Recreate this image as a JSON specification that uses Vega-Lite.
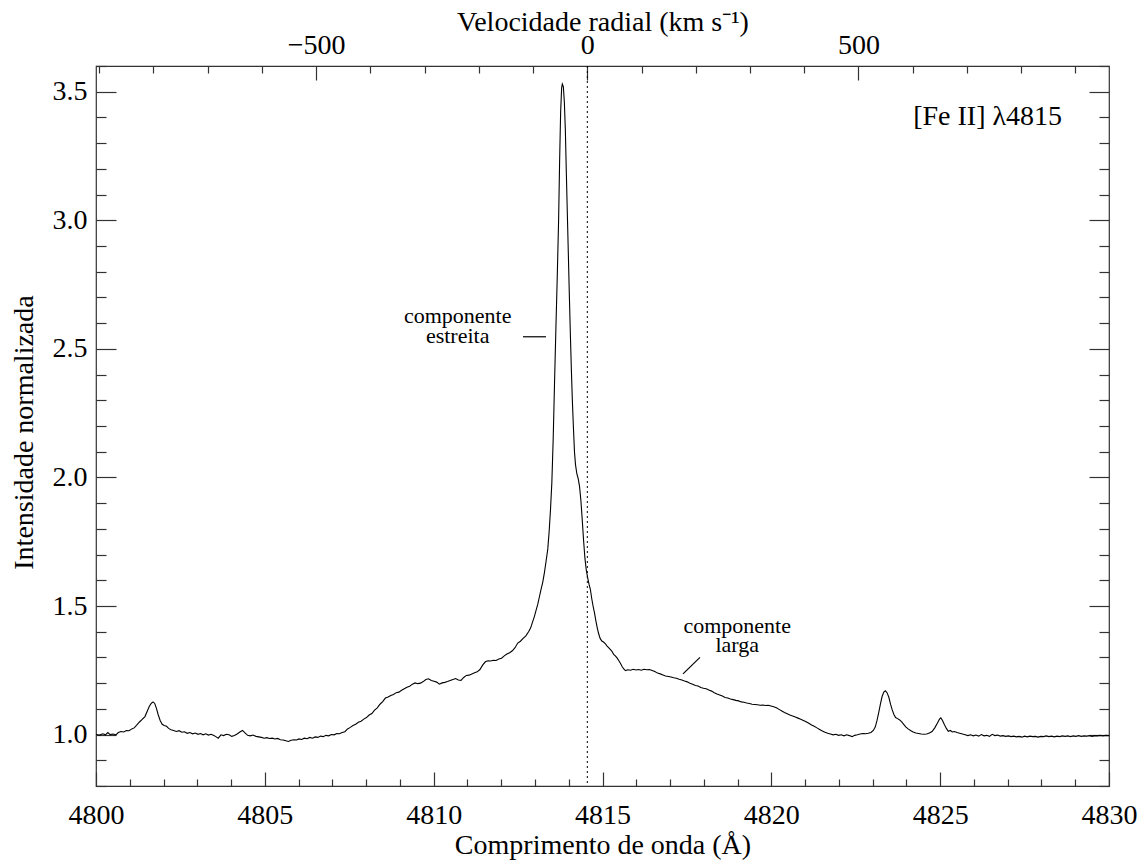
{
  "$schema": "https://vega.github.io/schema/vega-lite/v6.json",
  "width": 1013,
  "height": 720,
  "autosize": {"type": "none"},
  "padding": {"left": 96, "top": 66, "right": 38, "bottom": 74},
  "background": "white",
  "config": {
    "view": {"stroke": "#333", "strokeWidth": 1.2},
    "axis": {
      "grid": false,
      "domain": false,
      "labelFont": "Liberation Serif",
      "titleFont": "Liberation Serif",
      "labelFontSize": 28,
      "titleFontSize": 28,
      "labelColor": "black",
      "titleColor": "black",
      "titleFontWeight": "normal",
      "tickColor": "#333",
      "tickWidth": 1.2,
      "labelFlush": false,
      "labelOverlap": false,
      "labelBound": false
    },
    "text": {"font": "Liberation Serif", "color": "black"}
  },
  "datasets": {
    "spectrum": [
      {"wavelength": 4800.00, "intensity": 1.000}, {"wavelength": 4800.10, "intensity": 0.998}, {"wavelength": 4800.20, "intensity": 1.003},
      {"wavelength": 4800.28, "intensity": 0.999}, {"wavelength": 4800.35, "intensity": 1.008}, {"wavelength": 4800.42, "intensity": 1.000},
      {"wavelength": 4800.50, "intensity": 1.002}, {"wavelength": 4800.59, "intensity": 0.999}, {"wavelength": 4800.66, "intensity": 1.008},
      {"wavelength": 4800.74, "intensity": 1.012}, {"wavelength": 4800.82, "intensity": 1.010}, {"wavelength": 4800.90, "intensity": 1.016},
      {"wavelength": 4800.98, "intensity": 1.015}, {"wavelength": 4801.06, "intensity": 1.022}, {"wavelength": 4801.13, "intensity": 1.026},
      {"wavelength": 4801.20, "intensity": 1.036}, {"wavelength": 4801.28, "intensity": 1.048}, {"wavelength": 4801.36, "intensity": 1.058},
      {"wavelength": 4801.45, "intensity": 1.070}, {"wavelength": 4801.52, "intensity": 1.092}, {"wavelength": 4801.58, "intensity": 1.110},
      {"wavelength": 4801.64, "intensity": 1.122}, {"wavelength": 4801.69, "intensity": 1.127}, {"wavelength": 4801.74, "intensity": 1.121},
      {"wavelength": 4801.79, "intensity": 1.102}, {"wavelength": 4801.84, "intensity": 1.078}, {"wavelength": 4801.90, "intensity": 1.055},
      {"wavelength": 4801.96, "intensity": 1.040}, {"wavelength": 4802.02, "intensity": 1.035}, {"wavelength": 4802.09, "intensity": 1.032},
      {"wavelength": 4802.15, "intensity": 1.024}, {"wavelength": 4802.22, "intensity": 1.019}, {"wavelength": 4802.30, "intensity": 1.016},
      {"wavelength": 4802.38, "intensity": 1.012}, {"wavelength": 4802.46, "intensity": 1.015}, {"wavelength": 4802.54, "intensity": 1.009},
      {"wavelength": 4802.62, "intensity": 1.011}, {"wavelength": 4802.70, "intensity": 1.005}, {"wavelength": 4802.78, "intensity": 1.008},
      {"wavelength": 4802.86, "intensity": 1.003}, {"wavelength": 4802.94, "intensity": 1.006}, {"wavelength": 4803.02, "intensity": 1.001},
      {"wavelength": 4803.10, "intensity": 1.004}, {"wavelength": 4803.17, "intensity": 0.999}, {"wavelength": 4803.25, "intensity": 1.003},
      {"wavelength": 4803.33, "intensity": 0.998}, {"wavelength": 4803.41, "intensity": 1.001}, {"wavelength": 4803.49, "intensity": 0.996},
      {"wavelength": 4803.55, "intensity": 0.992}, {"wavelength": 4803.62, "intensity": 0.986}, {"wavelength": 4803.70, "intensity": 0.999},
      {"wavelength": 4803.78, "intensity": 0.996}, {"wavelength": 4803.86, "intensity": 1.001}, {"wavelength": 4803.94, "intensity": 0.999},
      {"wavelength": 4804.02, "intensity": 0.993}, {"wavelength": 4804.10, "intensity": 0.996}, {"wavelength": 4804.18, "intensity": 1.002},
      {"wavelength": 4804.26, "intensity": 1.010}, {"wavelength": 4804.34, "intensity": 1.016}, {"wavelength": 4804.42, "intensity": 1.006},
      {"wavelength": 4804.49, "intensity": 0.997}, {"wavelength": 4804.57, "intensity": 0.995}, {"wavelength": 4804.65, "intensity": 0.998},
      {"wavelength": 4804.74, "intensity": 0.993}, {"wavelength": 4804.82, "intensity": 0.991}, {"wavelength": 4804.90, "intensity": 0.989},
      {"wavelength": 4804.98, "intensity": 0.986}, {"wavelength": 4805.06, "intensity": 0.988}, {"wavelength": 4805.14, "intensity": 0.985},
      {"wavelength": 4805.22, "intensity": 0.986}, {"wavelength": 4805.30, "intensity": 0.983}, {"wavelength": 4805.38, "intensity": 0.985},
      {"wavelength": 4805.46, "intensity": 0.980}, {"wavelength": 4805.54, "intensity": 0.979}, {"wavelength": 4805.62, "intensity": 0.976},
      {"wavelength": 4805.70, "intensity": 0.973}, {"wavelength": 4805.78, "intensity": 0.978}, {"wavelength": 4805.86, "intensity": 0.980},
      {"wavelength": 4805.94, "intensity": 0.979}, {"wavelength": 4806.01, "intensity": 0.983}, {"wavelength": 4806.09, "intensity": 0.981},
      {"wavelength": 4806.17, "intensity": 0.986}, {"wavelength": 4806.25, "intensity": 0.984}, {"wavelength": 4806.33, "intensity": 0.989},
      {"wavelength": 4806.41, "intensity": 0.986}, {"wavelength": 4806.49, "intensity": 0.991}, {"wavelength": 4806.57, "intensity": 0.989},
      {"wavelength": 4806.65, "intensity": 0.994}, {"wavelength": 4806.73, "intensity": 0.992}, {"wavelength": 4806.81, "intensity": 0.997},
      {"wavelength": 4806.89, "intensity": 0.995}, {"wavelength": 4806.97, "intensity": 1.000}, {"wavelength": 4807.05, "intensity": 0.999},
      {"wavelength": 4807.13, "intensity": 1.004}, {"wavelength": 4807.21, "intensity": 1.003}, {"wavelength": 4807.29, "intensity": 1.008},
      {"wavelength": 4807.37, "intensity": 1.011}, {"wavelength": 4807.45, "intensity": 1.022}, {"wavelength": 4807.53, "intensity": 1.028},
      {"wavelength": 4807.61, "intensity": 1.035}, {"wavelength": 4807.69, "intensity": 1.040}, {"wavelength": 4807.77, "intensity": 1.048},
      {"wavelength": 4807.85, "intensity": 1.052}, {"wavelength": 4807.93, "intensity": 1.060}, {"wavelength": 4808.01, "intensity": 1.066},
      {"wavelength": 4808.09, "intensity": 1.076}, {"wavelength": 4808.17, "intensity": 1.082}, {"wavelength": 4808.25, "intensity": 1.095},
      {"wavelength": 4808.33, "intensity": 1.104}, {"wavelength": 4808.41, "intensity": 1.118}, {"wavelength": 4808.49, "intensity": 1.128},
      {"wavelength": 4808.57, "intensity": 1.142}, {"wavelength": 4808.65, "intensity": 1.146}, {"wavelength": 4808.73, "intensity": 1.152},
      {"wavelength": 4808.81, "intensity": 1.156}, {"wavelength": 4808.89, "intensity": 1.163}, {"wavelength": 4808.97, "intensity": 1.165},
      {"wavelength": 4809.05, "intensity": 1.172}, {"wavelength": 4809.13, "intensity": 1.178}, {"wavelength": 4809.21, "intensity": 1.184},
      {"wavelength": 4809.29, "intensity": 1.188}, {"wavelength": 4809.37, "intensity": 1.196}, {"wavelength": 4809.45, "intensity": 1.201},
      {"wavelength": 4809.53, "intensity": 1.198}, {"wavelength": 4809.61, "intensity": 1.200}, {"wavelength": 4809.69, "intensity": 1.206},
      {"wavelength": 4809.77, "intensity": 1.214}, {"wavelength": 4809.85, "intensity": 1.217}, {"wavelength": 4809.93, "intensity": 1.210},
      {"wavelength": 4810.01, "intensity": 1.207}, {"wavelength": 4810.09, "intensity": 1.204}, {"wavelength": 4810.17, "intensity": 1.196},
      {"wavelength": 4810.25, "intensity": 1.201}, {"wavelength": 4810.33, "intensity": 1.203}, {"wavelength": 4810.41, "intensity": 1.206},
      {"wavelength": 4810.49, "intensity": 1.210}, {"wavelength": 4810.57, "intensity": 1.214}, {"wavelength": 4810.65, "intensity": 1.218},
      {"wavelength": 4810.73, "intensity": 1.212}, {"wavelength": 4810.81, "intensity": 1.211}, {"wavelength": 4810.89, "intensity": 1.222},
      {"wavelength": 4810.97, "intensity": 1.230}, {"wavelength": 4811.05, "intensity": 1.231}, {"wavelength": 4811.13, "intensity": 1.236},
      {"wavelength": 4811.21, "intensity": 1.240}, {"wavelength": 4811.29, "intensity": 1.244}, {"wavelength": 4811.37, "intensity": 1.253},
      {"wavelength": 4811.45, "intensity": 1.270}, {"wavelength": 4811.53, "intensity": 1.283}, {"wavelength": 4811.61, "intensity": 1.287},
      {"wavelength": 4811.69, "intensity": 1.286}, {"wavelength": 4811.77, "intensity": 1.289}, {"wavelength": 4811.85, "intensity": 1.288},
      {"wavelength": 4811.93, "intensity": 1.294}, {"wavelength": 4812.01, "intensity": 1.297}, {"wavelength": 4812.09, "intensity": 1.306},
      {"wavelength": 4812.17, "intensity": 1.313}, {"wavelength": 4812.25, "intensity": 1.318}, {"wavelength": 4812.33, "intensity": 1.326},
      {"wavelength": 4812.41, "intensity": 1.338}, {"wavelength": 4812.49, "intensity": 1.356}, {"wavelength": 4812.57, "intensity": 1.363},
      {"wavelength": 4812.65, "intensity": 1.374}, {"wavelength": 4812.73, "intensity": 1.384}, {"wavelength": 4812.81, "intensity": 1.400},
      {"wavelength": 4812.87, "intensity": 1.414}, {"wavelength": 4812.93, "intensity": 1.438}, {"wavelength": 4812.98, "intensity": 1.458},
      {"wavelength": 4813.03, "intensity": 1.482}, {"wavelength": 4813.08, "intensity": 1.505}, {"wavelength": 4813.13, "intensity": 1.535},
      {"wavelength": 4813.18, "intensity": 1.565}, {"wavelength": 4813.23, "intensity": 1.592}, {"wavelength": 4813.28, "intensity": 1.630},
      {"wavelength": 4813.33, "intensity": 1.675}, {"wavelength": 4813.38, "intensity": 1.722}, {"wavelength": 4813.42, "intensity": 1.790},
      {"wavelength": 4813.46, "intensity": 1.875}, {"wavelength": 4813.50, "intensity": 1.980}, {"wavelength": 4813.54, "intensity": 2.150},
      {"wavelength": 4813.58, "intensity": 2.370}, {"wavelength": 4813.62, "intensity": 2.580}, {"wavelength": 4813.66, "intensity": 2.780},
      {"wavelength": 4813.70, "intensity": 3.000}, {"wavelength": 4813.73, "intensity": 3.230}, {"wavelength": 4813.76, "intensity": 3.420},
      {"wavelength": 4813.79, "intensity": 3.515}, {"wavelength": 4813.81, "intensity": 3.530}, {"wavelength": 4813.84, "intensity": 3.520},
      {"wavelength": 4813.87, "intensity": 3.460}, {"wavelength": 4813.90, "intensity": 3.350}, {"wavelength": 4813.93, "intensity": 3.180},
      {"wavelength": 4813.96, "intensity": 3.020}, {"wavelength": 4813.99, "intensity": 2.860}, {"wavelength": 4814.02, "intensity": 2.700},
      {"wavelength": 4814.05, "intensity": 2.550}, {"wavelength": 4814.08, "intensity": 2.410}, {"wavelength": 4814.11, "intensity": 2.290},
      {"wavelength": 4814.14, "intensity": 2.190}, {"wavelength": 4814.17, "intensity": 2.100}, {"wavelength": 4814.20, "intensity": 2.050},
      {"wavelength": 4814.24, "intensity": 2.015}, {"wavelength": 4814.28, "intensity": 1.995}, {"wavelength": 4814.32, "intensity": 1.965},
      {"wavelength": 4814.36, "intensity": 1.910}, {"wavelength": 4814.40, "intensity": 1.835}, {"wavelength": 4814.44, "intensity": 1.755},
      {"wavelength": 4814.48, "intensity": 1.685}, {"wavelength": 4814.52, "intensity": 1.640}, {"wavelength": 4814.56, "intensity": 1.610},
      {"wavelength": 4814.60, "intensity": 1.585}, {"wavelength": 4814.64, "intensity": 1.565}, {"wavelength": 4814.68, "intensity": 1.530},
      {"wavelength": 4814.72, "intensity": 1.500}, {"wavelength": 4814.76, "intensity": 1.475}, {"wavelength": 4814.80, "intensity": 1.445},
      {"wavelength": 4814.84, "intensity": 1.418}, {"wavelength": 4814.88, "intensity": 1.395}, {"wavelength": 4814.93, "intensity": 1.374},
      {"wavelength": 4814.98, "intensity": 1.364}, {"wavelength": 4815.03, "intensity": 1.360}, {"wavelength": 4815.08, "intensity": 1.354},
      {"wavelength": 4815.13, "intensity": 1.345}, {"wavelength": 4815.18, "intensity": 1.338}, {"wavelength": 4815.23, "intensity": 1.331},
      {"wavelength": 4815.28, "intensity": 1.324}, {"wavelength": 4815.33, "intensity": 1.312}, {"wavelength": 4815.38, "intensity": 1.306},
      {"wavelength": 4815.43, "intensity": 1.298}, {"wavelength": 4815.48, "intensity": 1.288}, {"wavelength": 4815.53, "intensity": 1.277},
      {"wavelength": 4815.58, "intensity": 1.265}, {"wavelength": 4815.63, "intensity": 1.255}, {"wavelength": 4815.68, "intensity": 1.249},
      {"wavelength": 4815.75, "intensity": 1.252}, {"wavelength": 4815.83, "intensity": 1.250}, {"wavelength": 4815.91, "intensity": 1.254},
      {"wavelength": 4815.99, "intensity": 1.251}, {"wavelength": 4816.07, "intensity": 1.253}, {"wavelength": 4816.15, "intensity": 1.250},
      {"wavelength": 4816.23, "intensity": 1.254}, {"wavelength": 4816.31, "intensity": 1.252}, {"wavelength": 4816.39, "intensity": 1.253},
      {"wavelength": 4816.47, "intensity": 1.249}, {"wavelength": 4816.55, "intensity": 1.245}, {"wavelength": 4816.63, "intensity": 1.239},
      {"wavelength": 4816.71, "intensity": 1.236}, {"wavelength": 4816.79, "intensity": 1.232}, {"wavelength": 4816.87, "intensity": 1.228},
      {"wavelength": 4816.95, "intensity": 1.226}, {"wavelength": 4817.03, "intensity": 1.224}, {"wavelength": 4817.11, "intensity": 1.221},
      {"wavelength": 4817.19, "intensity": 1.219}, {"wavelength": 4817.27, "intensity": 1.215}, {"wavelength": 4817.35, "intensity": 1.212},
      {"wavelength": 4817.43, "intensity": 1.208}, {"wavelength": 4817.51, "intensity": 1.205}, {"wavelength": 4817.59, "intensity": 1.200},
      {"wavelength": 4817.67, "intensity": 1.196}, {"wavelength": 4817.75, "intensity": 1.191}, {"wavelength": 4817.83, "intensity": 1.189},
      {"wavelength": 4817.91, "intensity": 1.183}, {"wavelength": 4817.99, "intensity": 1.180}, {"wavelength": 4818.07, "intensity": 1.178},
      {"wavelength": 4818.15, "intensity": 1.173}, {"wavelength": 4818.23, "intensity": 1.169}, {"wavelength": 4818.31, "intensity": 1.163},
      {"wavelength": 4818.39, "intensity": 1.158}, {"wavelength": 4818.47, "intensity": 1.154}, {"wavelength": 4818.55, "intensity": 1.150},
      {"wavelength": 4818.63, "intensity": 1.144}, {"wavelength": 4818.71, "intensity": 1.142}, {"wavelength": 4818.79, "intensity": 1.138},
      {"wavelength": 4818.87, "intensity": 1.136}, {"wavelength": 4818.95, "intensity": 1.133}, {"wavelength": 4819.03, "intensity": 1.131},
      {"wavelength": 4819.11, "intensity": 1.127}, {"wavelength": 4819.19, "intensity": 1.126}, {"wavelength": 4819.27, "intensity": 1.123},
      {"wavelength": 4819.35, "intensity": 1.121}, {"wavelength": 4819.43, "intensity": 1.118}, {"wavelength": 4819.51, "intensity": 1.117},
      {"wavelength": 4819.59, "intensity": 1.116}, {"wavelength": 4819.67, "intensity": 1.114}, {"wavelength": 4819.75, "intensity": 1.115},
      {"wavelength": 4819.83, "intensity": 1.113}, {"wavelength": 4819.91, "intensity": 1.114}, {"wavelength": 4819.99, "intensity": 1.111},
      {"wavelength": 4820.07, "intensity": 1.108}, {"wavelength": 4820.15, "intensity": 1.104}, {"wavelength": 4820.23, "intensity": 1.098},
      {"wavelength": 4820.31, "intensity": 1.092}, {"wavelength": 4820.39, "intensity": 1.086}, {"wavelength": 4820.47, "intensity": 1.081},
      {"wavelength": 4820.55, "intensity": 1.076}, {"wavelength": 4820.63, "intensity": 1.072}, {"wavelength": 4820.71, "intensity": 1.068},
      {"wavelength": 4820.79, "intensity": 1.064}, {"wavelength": 4820.87, "intensity": 1.060}, {"wavelength": 4820.95, "intensity": 1.055},
      {"wavelength": 4821.03, "intensity": 1.050}, {"wavelength": 4821.11, "intensity": 1.044}, {"wavelength": 4821.19, "intensity": 1.037},
      {"wavelength": 4821.27, "intensity": 1.032}, {"wavelength": 4821.35, "intensity": 1.026}, {"wavelength": 4821.43, "intensity": 1.020},
      {"wavelength": 4821.51, "intensity": 1.014}, {"wavelength": 4821.59, "intensity": 1.009}, {"wavelength": 4821.67, "intensity": 1.005},
      {"wavelength": 4821.75, "intensity": 1.002}, {"wavelength": 4821.83, "intensity": 0.999}, {"wavelength": 4821.91, "intensity": 1.001},
      {"wavelength": 4821.99, "intensity": 0.997}, {"wavelength": 4822.07, "intensity": 0.999}, {"wavelength": 4822.15, "intensity": 0.995},
      {"wavelength": 4822.23, "intensity": 0.999}, {"wavelength": 4822.31, "intensity": 0.996}, {"wavelength": 4822.39, "intensity": 0.992},
      {"wavelength": 4822.47, "intensity": 0.997}, {"wavelength": 4822.55, "intensity": 0.999}, {"wavelength": 4822.63, "intensity": 1.002},
      {"wavelength": 4822.71, "intensity": 1.004}, {"wavelength": 4822.79, "intensity": 1.003}, {"wavelength": 4822.87, "intensity": 1.005},
      {"wavelength": 4822.95, "intensity": 1.008}, {"wavelength": 4823.02, "intensity": 1.016}, {"wavelength": 4823.08, "intensity": 1.030},
      {"wavelength": 4823.13, "intensity": 1.055}, {"wavelength": 4823.18, "intensity": 1.085}, {"wavelength": 4823.23, "intensity": 1.118},
      {"wavelength": 4823.28, "intensity": 1.148}, {"wavelength": 4823.33, "intensity": 1.165}, {"wavelength": 4823.38, "intensity": 1.170},
      {"wavelength": 4823.43, "intensity": 1.162}, {"wavelength": 4823.48, "intensity": 1.145}, {"wavelength": 4823.53, "intensity": 1.118},
      {"wavelength": 4823.58, "intensity": 1.096}, {"wavelength": 4823.63, "intensity": 1.078}, {"wavelength": 4823.68, "intensity": 1.066},
      {"wavelength": 4823.74, "intensity": 1.062}, {"wavelength": 4823.80, "intensity": 1.057}, {"wavelength": 4823.86, "intensity": 1.049},
      {"wavelength": 4823.92, "intensity": 1.040}, {"wavelength": 4823.98, "intensity": 1.030}, {"wavelength": 4824.05, "intensity": 1.022},
      {"wavelength": 4824.12, "intensity": 1.016}, {"wavelength": 4824.20, "intensity": 1.010}, {"wavelength": 4824.28, "intensity": 1.006},
      {"wavelength": 4824.36, "intensity": 1.004}, {"wavelength": 4824.44, "intensity": 1.002}, {"wavelength": 4824.52, "intensity": 1.001},
      {"wavelength": 4824.60, "intensity": 1.002}, {"wavelength": 4824.68, "intensity": 1.006}, {"wavelength": 4824.76, "intensity": 1.012},
      {"wavelength": 4824.84, "intensity": 1.026}, {"wavelength": 4824.92, "intensity": 1.045}, {"wavelength": 4824.98, "intensity": 1.060},
      {"wavelength": 4825.02, "intensity": 1.065}, {"wavelength": 4825.07, "intensity": 1.055}, {"wavelength": 4825.12, "intensity": 1.040},
      {"wavelength": 4825.18, "intensity": 1.025}, {"wavelength": 4825.24, "intensity": 1.013}, {"wavelength": 4825.30, "intensity": 1.016},
      {"wavelength": 4825.36, "intensity": 1.010}, {"wavelength": 4825.42, "intensity": 1.012}, {"wavelength": 4825.50, "intensity": 1.008},
      {"wavelength": 4825.58, "intensity": 1.005}, {"wavelength": 4825.66, "intensity": 1.002}, {"wavelength": 4825.74, "intensity": 0.999},
      {"wavelength": 4825.82, "intensity": 0.996}, {"wavelength": 4825.90, "intensity": 0.999}, {"wavelength": 4825.98, "intensity": 0.995},
      {"wavelength": 4826.06, "intensity": 0.998}, {"wavelength": 4826.14, "intensity": 0.994}, {"wavelength": 4826.22, "intensity": 1.000},
      {"wavelength": 4826.30, "intensity": 0.995}, {"wavelength": 4826.38, "intensity": 0.997}, {"wavelength": 4826.46, "intensity": 0.993},
      {"wavelength": 4826.54, "intensity": 1.001}, {"wavelength": 4826.62, "intensity": 0.996}, {"wavelength": 4826.70, "intensity": 0.998},
      {"wavelength": 4826.78, "intensity": 0.994}, {"wavelength": 4826.86, "intensity": 0.996}, {"wavelength": 4826.94, "intensity": 0.993},
      {"wavelength": 4827.02, "intensity": 0.995}, {"wavelength": 4827.10, "intensity": 0.992}, {"wavelength": 4827.18, "intensity": 0.994},
      {"wavelength": 4827.26, "intensity": 0.991}, {"wavelength": 4827.34, "intensity": 0.993}, {"wavelength": 4827.42, "intensity": 0.990},
      {"wavelength": 4827.50, "intensity": 0.994}, {"wavelength": 4827.58, "intensity": 0.991}, {"wavelength": 4827.66, "intensity": 0.994},
      {"wavelength": 4827.74, "intensity": 0.992}, {"wavelength": 4827.82, "intensity": 0.993}, {"wavelength": 4827.90, "intensity": 0.990},
      {"wavelength": 4827.98, "intensity": 0.993}, {"wavelength": 4828.06, "intensity": 0.992}, {"wavelength": 4828.14, "intensity": 0.995},
      {"wavelength": 4828.22, "intensity": 0.992}, {"wavelength": 4828.30, "intensity": 0.994}, {"wavelength": 4828.38, "intensity": 0.991},
      {"wavelength": 4828.46, "intensity": 0.994}, {"wavelength": 4828.54, "intensity": 0.992}, {"wavelength": 4828.62, "intensity": 0.995},
      {"wavelength": 4828.70, "intensity": 0.993}, {"wavelength": 4828.78, "intensity": 0.995}, {"wavelength": 4828.86, "intensity": 0.992},
      {"wavelength": 4828.94, "intensity": 0.995}, {"wavelength": 4829.02, "intensity": 0.993}, {"wavelength": 4829.10, "intensity": 0.996},
      {"wavelength": 4829.18, "intensity": 0.993}, {"wavelength": 4829.26, "intensity": 0.995}, {"wavelength": 4829.34, "intensity": 0.994},
      {"wavelength": 4829.42, "intensity": 0.996}, {"wavelength": 4829.50, "intensity": 0.993}, {"wavelength": 4829.58, "intensity": 0.996},
      {"wavelength": 4829.66, "intensity": 0.995}, {"wavelength": 4829.74, "intensity": 0.997}, {"wavelength": 4829.82, "intensity": 0.995},
      {"wavelength": 4829.90, "intensity": 0.997}, {"wavelength": 4830.00, "intensity": 0.996}
    ],
    "notes": [
      {"wavelength": 4810.71, "intensity": 2.599, "text": "componente"},
      {"wavelength": 4810.71, "intensity": 2.522, "text": "estreita"},
      {"wavelength": 4818.99, "intensity": 1.394, "text": "componente"},
      {"wavelength": 4818.99, "intensity": 1.322, "text": "larga"}
    ],
    "pointers": [
      {"wl_start": 4812.645, "wl_end": 4813.326, "i_start": 2.547, "i_end": 2.547},
      {"wl_start": 4817.887, "wl_end": 4817.384, "i_start": 1.300, "i_end": 1.236}
    ]
  },
  "layer": [
    {
      "data": {"name": "spectrum"},
      "mark": {"type": "line", "color": "black", "strokeWidth": 1.1},
      "encoding": {
        "x": {
          "field": "wavelength", "type": "quantitative",
          "scale": {"domain": [4800, 4830], "nice": false, "zero": false},
          "axis": {
            "orient": "bottom",
            "title": "Comprimento de onda (Å)",
            "values": [4800, 4801, 4802, 4803, 4804, 4805, 4806, 4807, 4808, 4809, 4810, 4811, 4812, 4813, 4814, 4815, 4816, 4817, 4818, 4819, 4820, 4821, 4822, 4823, 4824, 4825, 4826, 4827, 4828, 4829, 4830],
            "tickSize": {"condition": {"test": "datum.value % 5 === 0", "value": -14}, "value": -7},
            "labelExpr": "datum.value % 5 === 0 ? format(datum.value, 'd') : ''",
            "labelPadding": 29,
            "titleY": 67,
            "titleBaseline": "alphabetic"
          }
        },
        "y": {
          "field": "intensity", "type": "quantitative",
          "scale": {"domain": [0.8, 3.6], "nice": false, "zero": false},
          "axis": {
            "orient": "left",
            "title": "Intensidade normalizada",
            "values": [0.8, 0.9, 1.0, 1.1, 1.2, 1.3, 1.4, 1.5, 1.6, 1.7, 1.8, 1.9, 2.0, 2.1, 2.2, 2.3, 2.4, 2.5, 2.6, 2.7, 2.8, 2.9, 3.0, 3.1, 3.2, 3.3, 3.4, 3.5, 3.6],
            "tickSize": {"condition": {"test": "abs(datum.value * 2 - round(datum.value * 2)) < 0.001", "value": -20}, "value": -10},
            "labelExpr": "abs(datum.value * 2 - round(datum.value * 2)) < 0.001 ? format(datum.value, '.1f') : ''",
            "labelPadding": 29,
            "titleX": -64,
            "titleY": 366,
            "titleAngle": -90,
            "titleBaseline": "alphabetic"
          }
        }
      }
    },
    {
      "data": {"values": [{"velocity": 0}]},
      "mark": {"type": "rule", "color": "black", "strokeWidth": 1, "strokeDash": [2, 3]},
      "encoding": {
        "x": {
          "field": "velocity", "type": "quantitative",
          "scale": {"domain": [-906.0, 962.0], "nice": false, "zero": false},
          "axis": {
            "orient": "top",
            "title": "Velocidade radial (km s⁻¹)",
            "values": [-900, -800, -700, -600, -500, -400, -300, -200, -100, 0, 100, 200, 300, 400, 500, 600, 700, 800, 900],
            "tickSize": {"condition": {"test": "datum.value % 500 === 0", "value": -14}, "value": -7},
            "labelExpr": "datum.value % 500 === 0 ? (datum.value < 0 ? '−' + abs(datum.value) : '' + datum.value) : ''",
            "labelPadding": 21,
            "titleY": -36,
            "titleBaseline": "alphabetic"
          }
        }
      }
    },
    {
      "data": {"name": "notes"},
      "mark": {"type": "text", "fontSize": 22, "align": "center", "baseline": "alphabetic"},
      "encoding": {
        "x": {"field": "wavelength", "type": "quantitative", "scale": {"domain": [4800, 4830], "nice": false, "zero": false}, "axis": null},
        "y": {
          "field": "intensity", "type": "quantitative",
          "scale": {"domain": [0.8, 3.6], "nice": false, "zero": false},
          "axis": {
            "orient": "right",
            "title": null,
            "labels": false,
            "values": [0.8, 0.9, 1.0, 1.1, 1.2, 1.3, 1.4, 1.5, 1.6, 1.7, 1.8, 1.9, 2.0, 2.1, 2.2, 2.3, 2.4, 2.5, 2.6, 2.7, 2.8, 2.9, 3.0, 3.1, 3.2, 3.3, 3.4, 3.5, 3.6],
            "tickSize": {"condition": {"test": "abs(datum.value * 2 - round(datum.value * 2)) < 0.001", "value": -20}, "value": -10}
          }
        },
        "text": {"field": "text"}
      }
    },
    {
      "data": {"values": [{"wavelength": 4828.61, "intensity": 3.371, "text": "[Fe II] λ4815"}]},
      "mark": {"type": "text", "fontSize": 28, "align": "right", "baseline": "alphabetic"},
      "encoding": {
        "x": {"field": "wavelength", "type": "quantitative", "scale": {"domain": [4800, 4830], "nice": false, "zero": false}, "axis": null},
        "y": {"field": "intensity", "type": "quantitative", "scale": {"domain": [0.8, 3.6], "nice": false, "zero": false}, "axis": null},
        "text": {"field": "text"}
      }
    },
    {
      "data": {"name": "pointers"},
      "mark": {"type": "rule", "color": "black", "strokeWidth": 1.2},
      "encoding": {
        "x": {"field": "wl_start", "type": "quantitative", "scale": {"domain": [4800, 4830], "nice": false, "zero": false}, "axis": null},
        "x2": {"field": "wl_end"},
        "y": {"field": "i_start", "type": "quantitative", "scale": {"domain": [0.8, 3.6], "nice": false, "zero": false}, "axis": null},
        "y2": {"field": "i_end"}
      }
    }
  ],
  "resolve": {
    "scale": {"x": "independent", "y": "independent"},
    "axis": {"x": "independent", "y": "independent"}
  }
}
